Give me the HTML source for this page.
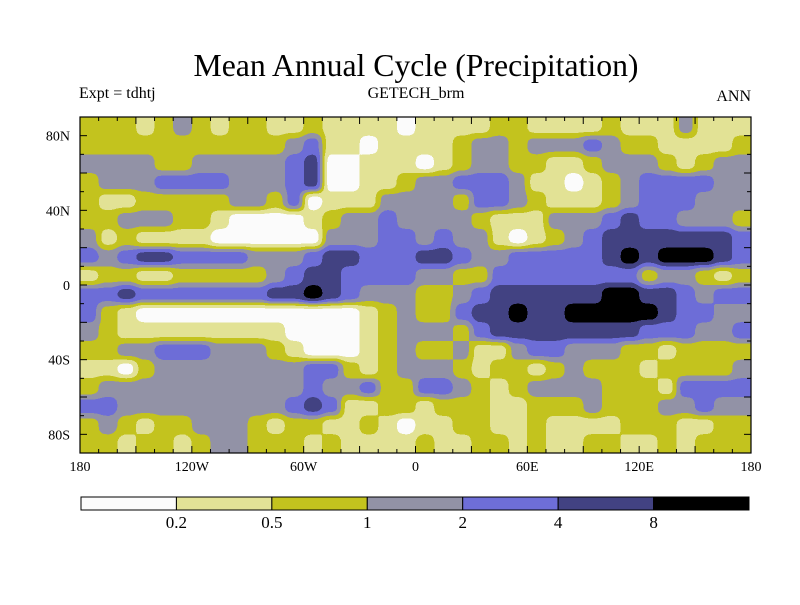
<!DOCTYPE html>
<html><head><meta charset="utf-8"><style>
body{margin:0;background:#fff;}
svg text{font-family:"Liberation Serif",serif;fill:#000;}
</style></head><body>
<svg id="chart" width="800" height="600" xmlns="http://www.w3.org/2000/svg">
<defs>
<filter id="contour" x="0" y="0" width="1" height="1" color-interpolation-filters="sRGB">
<feGaussianBlur in="SourceGraphic" stdDeviation="4" edgeMode="duplicate" result="b"/>
<feComponentTransfer in="b">
<feFuncR id="fR" type="discrete" tableValues="0"/>
<feFuncG id="fG" type="discrete" tableValues="0"/>
<feFuncB id="fB" type="discrete" tableValues="0"/>
<feFuncA type="discrete" tableValues="1"/>
</feComponentTransfer>
</filter>
<clipPath id="mapclip"><rect x="80" y="117" width="671" height="336"/></clipPath>
</defs>
<rect width="800" height="600" fill="#fff"/>
<text x="416" y="76" font-size="32" text-anchor="middle" textLength="445" lengthAdjust="spacingAndGlyphs">Mean Annual Cycle (Precipitation)</text>
<text x="79" y="98" font-size="16">Expt = tdhtj</text>
<text x="416" y="98" font-size="16" text-anchor="middle">GETECH_brm</text>
<text x="751" y="101" font-size="16" text-anchor="end">ANN</text>
<g clip-path="url(#mapclip)"><g id="map" filter="url(#contour)"></g></g>
<g id="axes"></g>
<g id="cbar"></g>
</svg>
<script>
const levelColors=["#fcfcfc","#e3e396","#c3c31e","#9292a6","#6e6ed8","#424282","#000000"];
const levelLabels=["0.2","0.5","1","2","4","8"];
const latLabels=["80N","40N","0","40S","80S"];
const latValues=[80,40,0,-40,-80];
const lonLabels=["180","120W","60W","0","60E","120E","180"];
const lonValues=[-180,-120,-60,0,60,120,180];
const gridRows=[
"222123212211211110111122111121113111",
"222222222223411011112332333432211112",
"333322333334500111012332211233321233",
"233344443334500112334443110123444433",
"211222223324011133332443211123444333",
"223332210000123343333211133345443332",
"312111100000033344343310123455555554",
"434554444333455444554334444456566654",
"122112222234554444332244444444233212",
"445444444455654333223455555566554344",
"421000000000000123224556556666654433",
"321111111110000123332455555555444334",
"223344433321000123223113443332212222",
"110233333333442123332122123222122223",
"233333333333433422443212333322214444",
"443333333334541122122211222322233433",
"232122333212211210112211211112221122",
"221221233222121111211221211221121222"];
const X0=80,X1=751,Y0=117,Y1=453;
const xs=lon=>X0+(lon+180)/360*(X1-X0);
const ys=lat=>Y0+(90-lat)/180*(Y1-Y0);
const NS="http://www.w3.org/2000/svg";
function mk(tag,attrs,parent){const e=document.createElementNS(NS,tag);for(const k in attrs)e.setAttribute(k,attrs[k]);parent.appendChild(e);return e;}
const n=levelColors.length;
const ch=i=>levelColors.map(c=>(parseInt(c.substr(1+2*i,2),16)/255).toFixed(3)).join(' ');
document.getElementById('fR').setAttribute('tableValues',ch(0));
document.getElementById('fG').setAttribute('tableValues',ch(1));
document.getElementById('fB').setAttribute('tableValues',ch(2));
const map=document.getElementById('map');
mk('rect',{x:X0-20,y:Y0-20,width:X1-X0+40,height:Y1-Y0+40,fill:'rgb(128,128,128)'},map);
gridRows.forEach((row,r)=>{
  const latTop=90-r*10;
  for(let c=0;c<row.length;c++){
    const lon=-180+c*10;
    const v=+row[c];
    const g=Math.round(255*(v+0.5)/n);
    let x=xs(lon),w=xs(lon+10)-xs(lon)+0.6,y=ys(latTop),h=ys(latTop-10)-ys(latTop)+0.6;
    if(c===0){x-=20;w+=20;} if(c===row.length-1){w+=20;}
    if(r===0){y-=20;h+=20;} if(r===gridRows.length-1){h+=20;}
    const rc=mk('rect',{x:x,y:y,width:w,height:h,fill:`rgb(${g},${g},${g})`},map);
    
    
  }
});
const ax=document.getElementById('axes');
const fr=mk('rect',{x:X0,y:Y0,width:X1-X0,height:Y1-Y0,fill:'none',stroke:'#000','stroke-width':1.2},ax);


for(let lon=-180;lon<=180;lon+=10){
  const big=lon%30===0?7:4;
  mk('line',{x1:xs(lon),x2:xs(lon),y1:Y1,y2:Y1-big,stroke:'#000'},ax);
  mk('line',{x1:xs(lon),x2:xs(lon),y1:Y0,y2:Y0+big,stroke:'#000'},ax);
}
for(let lat=-90;lat<=90;lat+=10){
  const big=lat%20===0?7:4;
  mk('line',{x1:X0,x2:X0+big,y1:ys(lat),y2:ys(lat),stroke:'#000'},ax);
  mk('line',{x1:X1,x2:X1-big,y1:ys(lat),y2:ys(lat),stroke:'#000'},ax);
}
latLabels.forEach((l,i)=>{
  const t=mk('text',{x:X0-10,y:ys(latValues[i])+5,'font-size':14,'text-anchor':'end'},ax);t.textContent=l;
  
  
});
lonLabels.forEach((l,i)=>{
  const t=mk('text',{x:xs(lonValues[i]),y:471,'font-size':14,'text-anchor':'middle'},ax);t.textContent=l;
  
  
});
const cb=document.getElementById('cbar');
const CX0=81,CX1=749,CY=497,CH=13,bw=(CX1-CX0)/levelColors.length;
levelColors.forEach((c,i)=>{
  const r=mk('rect',{x:CX0+i*bw,y:CY,width:bw,height:CH,fill:c,stroke:'#000','stroke-width':1},cb);
  
  
});
levelLabels.forEach((l,i)=>{
  const t=mk('text',{x:CX0+(i+1)*bw,y:528,'font-size':17,'text-anchor':'middle'},cb);t.textContent=l;
  
  
});
</script>
</body></html>
